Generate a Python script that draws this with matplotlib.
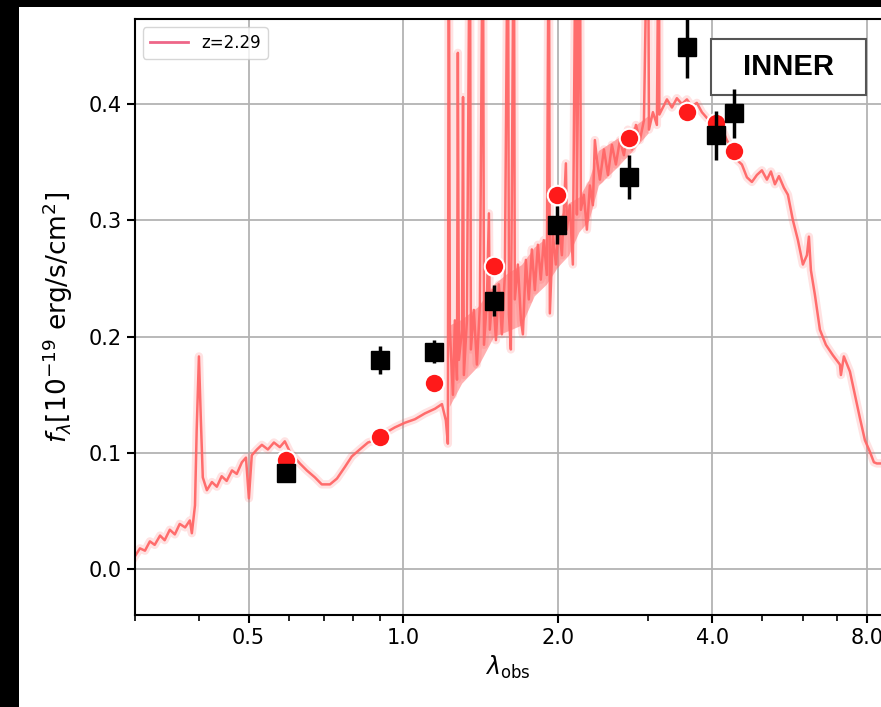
import numpy as np
import matplotlib.pyplot as plt
from matplotlib.lines import Line2D
from matplotlib.patches import Rectangle
from matplotlib.ticker import NullFormatter

'''
Data (read off the figure)
'''
# observed photometry, black squares
obs_wave = [0.59, 0.90, 1.15, 1.50, 1.99, 2.75, 3.57, 4.07, 4.41]
obs_flux = [0.083, 0.180, 0.187, 0.231, 0.296, 0.337, 0.449, 0.373, 0.392]
obs_err = [0.004, 0.012, 0.010, 0.013, 0.016, 0.019, 0.027, 0.021, 0.021]

# model photometry, red circles
mod_wave = [0.59, 0.90, 1.15, 1.50, 1.99, 2.75, 3.57, 4.07, 4.41]
mod_flux = [0.094, 0.114, 0.160, 0.261, 0.322, 0.371, 0.393, 0.384, 0.360]

# best fit spectrum (spikes go off the top of the plot)
spec_wave = [0.300, 0.307, 0.314, 0.321, 0.328, 0.336, 0.343, 0.351, 0.359, 0.367,
             0.376, 0.384, 0.3875, 0.393, 0.396, 0.400, 0.4035, 0.407, 0.4145, 0.424,
             0.4335, 0.443, 0.453, 0.464, 0.474, 0.485, 0.494, 0.5005, 0.507, 0.519,
             0.5305, 0.545, 0.560, 0.575, 0.588, 0.6015, 0.615, 0.629, 0.649, 0.673,
             0.694, 0.720, 0.743, 0.770, 0.794, 0.823, 0.854, 0.881, 0.921, 0.9635,
             1.008, 1.054, 1.102, 1.153, 1.190, 1.211, 1.222, 1.227,
             1.233, 1.250, 1.261, 1.273, 1.278, 1.284, 1.302, 1.308, 1.313, 1.331,
             1.349, 1.355, 1.373, 1.392, 1.411, 1.430, 1.437, 1.456, 1.469, 1.475,
             1.495, 1.516, 1.536, 1.557, 1.578, 1.600, 1.607, 1.621, 1.643, 1.650,
             1.673, 1.696, 1.711, 1.734, 1.757, 1.781, 1.805, 1.830, 1.854, 1.879,
             1.905, 1.922, 1.931, 1.957, 1.984, 2.011, 2.038, 2.075, 2.084, 2.112,
             2.141, 2.170, 2.180, 2.209, 2.219, 2.249, 2.280, 2.311, 2.342, 2.363,
             2.385, 2.417, 2.461, 2.506, 2.551, 2.597, 2.644, 2.692, 2.740, 2.790,
             2.841, 2.892, 2.945, 2.998, 3.012, 3.066, 3.121, 3.149, 3.156, 3.206,
             3.265, 3.339, 3.414, 3.491, 3.571, 3.652, 3.734, 3.819, 3.906, 3.995,
             4.085, 4.178, 4.272, 4.370, 4.469, 4.570, 4.674, 4.780, 4.888, 4.999,
             5.113, 5.206, 5.300, 5.396, 5.518, 5.618, 5.746, 5.876, 6.009, 6.118,
             6.173, 6.229, 6.341, 6.485, 6.662, 6.875, 7.094, 7.126, 7.221, 7.420,
             7.588, 7.760, 7.936, 8.116, 8.263, 8.374, 8.530]
spec_flux = [0.011, 0.018, 0.016, 0.024, 0.021, 0.029, 0.025, 0.034, 0.030, 0.039,
             0.036, 0.042, 0.031, 0.055, 0.120, 0.183, 0.128, 0.079, 0.068, 0.075,
             0.071, 0.080, 0.076, 0.085, 0.082, 0.092, 0.096, 0.061, 0.098, 0.103,
             0.107, 0.103, 0.109, 0.105, 0.110, 0.101, 0.096, 0.091, 0.085, 0.079,
             0.073, 0.073, 0.078, 0.088, 0.097, 0.103, 0.109, 0.111, 0.117, 0.122,
             0.126, 0.129, 0.134, 0.138, 0.142, 0.128, 0.108, 0.60,
             0.206, 0.150, 0.214, 0.163, 0.444, 0.180, 0.206, 0.406, 0.167, 0.214,
             0.60, 0.189, 0.223, 0.176, 0.227, 0.60, 0.193, 0.232, 0.306, 0.206,
             0.240, 0.197, 0.245, 0.202, 0.253, 0.60, 0.219, 0.189, 0.60, 0.232,
             0.262, 0.214, 0.202, 0.266, 0.232, 0.275, 0.240, 0.279, 0.249, 0.283,
             0.253, 0.60, 0.220, 0.288, 0.262, 0.296, 0.270, 0.349, 0.292, 0.313,
             0.262, 0.60, 0.305, 0.60, 0.309, 0.322, 0.292, 0.330, 0.313, 0.369,
             0.352, 0.335, 0.361, 0.339, 0.365, 0.348, 0.369, 0.356, 0.378, 0.361,
             0.382, 0.369, 0.386, 0.60, 0.378, 0.393, 0.382, 0.60, 0.391, 0.397,
             0.404, 0.397, 0.405, 0.400, 0.404, 0.398, 0.401, 0.393, 0.388, 0.385,
             0.376, 0.379, 0.369, 0.361, 0.352, 0.348, 0.337, 0.333, 0.339, 0.343,
             0.335, 0.342, 0.331, 0.338, 0.328, 0.322, 0.300, 0.283, 0.262, 0.270,
             0.286, 0.257, 0.236, 0.206, 0.193, 0.184, 0.176, 0.167, 0.183, 0.170,
             0.150, 0.130, 0.111, 0.101, 0.092, 0.091, 0.091]

# envelope of the dense noisy part of the spectrum
band_wave = [1.23, 1.30, 1.40, 1.50, 1.60, 1.70, 1.80, 1.90, 2.00, 2.10,
             2.20, 2.30, 2.40, 2.60, 2.80, 3.00]
band_low = [0.140, 0.160, 0.175, 0.200, 0.205, 0.210, 0.235, 0.245, 0.260, 0.270,
            0.290, 0.300, 0.330, 0.345, 0.360, 0.375]
band_high = [0.210, 0.215, 0.226, 0.245, 0.255, 0.262, 0.277, 0.285, 0.300, 0.315,
             0.320, 0.335, 0.360, 0.370, 0.380, 0.390]

xticks = [0.5, 1.0, 2.0, 4.0, 8.0]
yticks = [0.0, 0.1, 0.2, 0.3, 0.4]

'''
Plot
'''
fig = plt.figure(figsize=(8.81, 7.07), dpi=100, facecolor='black')
# white page, screenshot has a black strip on the left and top
fig.add_artist(Rectangle((19 / 881, 0), 1 - 19 / 881, 700 / 707,
                         transform=fig.transFigure, facecolor='white',
                         edgecolor='none', zorder=-10))

ax = fig.add_axes([134.8 / 881, 92 / 707, (881 - 134.8) / 881, 596 / 707])

ax.fill_between(band_wave, band_low, band_high, color='#ff7070', alpha=0.55,
                lw=0, zorder=1)
ax.plot(spec_wave, spec_flux, color='#ff6060', lw=6, alpha=0.18, zorder=1,
        solid_joinstyle='round')
ax.plot(spec_wave, spec_flux, color='#ff6666', lw=1.8, alpha=0.95, zorder=2)

# INNER label box (under the markers)
ax.add_patch(Rectangle((0.772, 0.8725), 0.208, 0.094, transform=ax.transAxes,
                       facecolor='white', edgecolor='#555555', lw=1.5, zorder=2.5))
ax.text(0.876, 0.9195, 'INNER', transform=ax.transAxes, ha='center',
        va='center', fontsize=21, fontweight='bold',
        family='Liberation Sans', zorder=2.6)

ax.plot(mod_wave, mod_flux, 'o', mfc='#ff1a1a', mec='white', mew=1.5,
        ms=14, zorder=3)
ax.errorbar(obs_wave, obs_flux, yerr=obs_err, fmt='s', color='black',
            ms=13, elinewidth=2.5, capsize=0, zorder=4)

ax.set_xscale('log')
ax.set_xlim(0.3, 8.53)
ax.set_ylim(-0.0393, 0.4731)
ax.set_xticks(xticks)
ax.set_xticklabels(['%.1f' % t for t in xticks])
ax.xaxis.set_minor_formatter(NullFormatter())
ax.set_yticks(yticks)
ax.set_yticklabels(['%.1f' % t for t in yticks])

ax.tick_params(which='major', length=6, width=1.5, labelsize=15)
ax.tick_params(which='minor', length=4, width=1.2)
ax.grid(True, which='major', color='#b3b3b3', lw=1.3)
ax.set_axisbelow(True)
for s in ax.spines.values():
    s.set_linewidth(1.5)
ax.spines['right'].set_visible(False)

ax.set_xlabel(r'$\lambda_{\rm obs}$', fontsize=17)
ax.set_ylabel(r'$f_\lambda[10^{-19}$ erg/s/cm$^2$]', fontsize=19, labelpad=10)

handle = Line2D([], [], color='#ee6688', lw=2)
ax.legend([handle], ['z=2.29'], loc='upper left', fontsize=12,
          handlelength=2.3)

fig.savefig('out.png', dpi=100, facecolor=fig.get_facecolor())
